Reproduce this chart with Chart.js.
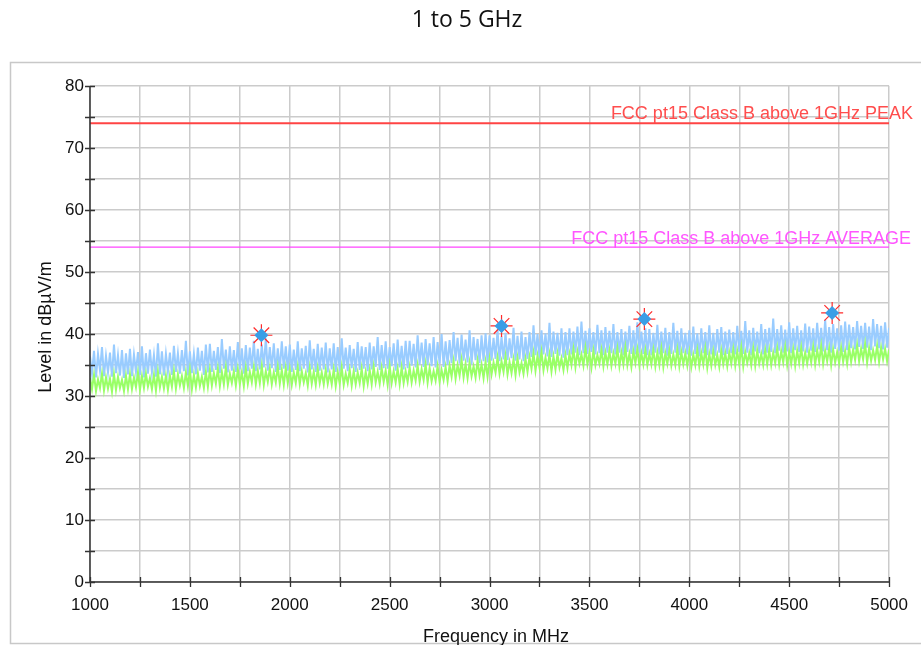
<!DOCTYPE html>
<html>
<head>
<meta charset="utf-8">
<script src="https://cdn.jsdelivr.net/npm/chart.js@4"></script>
<style>
html,body{margin:0;padding:0;background:#fff;}
#wrap{position:relative;width:921px;height:645px;}
</style>
</head>
<body>
<div id="wrap"><canvas id="c" width="921" height="645"></canvas></div>
<script>
// Frequency grid of the traces (MHz)
const freqStart = 1000;
const freqStep = 10;

// Peak trace (light blue), dBµV/m, one value every 10 MHz from 1000 to 5000 MHz
const peakTrace = [
36.4,33.6,37.3,33.0,36.8,34.1,37.9,33.2,36.5,33.8,37.0,33.1,38.3,33.7,36.6,33.3,37.4,32.9,36.9,33.5,
37.6,33.2,36.7,33.9,37.1,33.4,38.0,33.0,36.9,33.6,37.5,33.8,36.6,33.1,38.5,33.5,37.2,33.3,36.8,33.9,
37.0,33.4,38.1,33.9,36.9,33.6,37.4,34.0,38.9,33.3,37.2,33.7,36.8,33.5,37.8,34.1,37.3,33.4,38.3,33.8,
38.4,33.9,37.3,34.2,37.9,33.7,39.2,34.4,37.5,33.8,38.0,34.1,37.4,33.9,38.7,34.3,37.7,33.6,38.2,34.0,
37.8,34.4,38.9,34.0,37.6,34.3,38.3,34.6,39.3,34.1,37.9,34.5,38.5,33.9,37.7,34.2,38.8,34.4,38.0,34.1,
38.3,33.9,37.5,34.2,38.8,34.0,37.7,34.4,38.1,33.8,39.0,34.3,37.6,33.9,38.4,34.1,37.8,34.3,38.6,33.8,
37.7,34.3,38.5,33.9,37.9,34.1,39.3,34.4,37.8,34.0,38.2,34.5,37.6,33.9,38.7,34.2,38.0,34.4,37.9,34.0,
38.6,34.3,38.0,34.7,39.5,34.2,38.2,34.5,38.8,34.4,37.9,34.8,38.5,34.1,39.1,34.6,38.1,34.3,38.9,34.5,
38.9,34.9,38.4,34.6,39.8,35.1,38.6,34.7,39.2,35.0,38.5,34.8,39.5,34.6,38.7,35.2,40.0,34.7,38.8,35.0,
39.0,35.3,40.3,35.6,39.4,35.2,39.9,35.7,39.1,35.4,40.6,35.1,39.5,35.8,39.2,35.3,39.8,35.6,40.1,35.4,
39.8,35.7,39.4,36.0,40.7,35.6,39.6,35.9,40.2,35.8,39.3,36.1,41.0,35.7,39.7,35.9,40.4,35.6,39.5,36.0,
40.3,36.3,41.4,36.6,40.0,36.2,40.6,36.7,40.1,36.4,41.8,36.3,40.4,36.8,40.2,36.5,40.9,36.2,40.3,36.6,
40.9,36.7,40.4,37.0,41.2,36.6,42.0,36.9,40.5,36.8,40.9,37.1,40.3,36.7,41.5,36.9,40.6,36.6,41.1,37.0,
40.5,36.9,41.6,36.7,40.3,37.0,40.8,36.6,40.4,37.1,41.3,36.8,40.6,36.7,41.9,37.0,40.4,36.8,40.9,36.6,
40.8,36.6,40.2,37.0,41.5,36.7,40.4,36.9,41.0,36.5,40.3,36.8,41.8,37.0,40.5,36.6,40.9,36.9,40.2,36.7,
40.6,36.5,41.2,36.8,40.1,36.4,40.9,36.9,40.3,36.6,41.4,36.7,40.2,36.5,40.8,37.0,41.1,36.6,40.4,36.8,
40.7,36.9,40.3,36.7,41.3,37.1,40.5,36.8,42.1,37.0,40.6,36.6,41.0,37.2,40.4,36.9,41.6,36.7,40.8,37.0,
41.0,37.1,42.5,36.9,40.8,37.3,41.4,37.0,40.7,37.2,41.9,36.9,40.9,37.4,41.3,37.1,40.6,37.2,41.7,37.0,
41.2,37.3,40.9,37.1,41.8,37.5,41.0,37.2,42.3,37.4,41.1,37.0,41.6,37.6,40.9,37.3,41.4,37.1,42.0,37.4,
41.5,37.7,41.1,37.5,42.1,37.9,41.3,37.6,41.8,37.8,41.2,37.4,42.4,38.0,41.6,37.7,41.3,37.5,41.9,37.8,
41.0
];

// Average trace (light green), dBµV/m, one value every 10 MHz from 1000 to 5000 MHz
const avgTrace = [
32.9,31.1,33.4,30.8,32.7,31.3,33.6,30.9,33.0,31.2,32.8,30.7,33.5,31.0,33.1,31.3,32.6,30.8,33.3,31.1,
33.5,31.1,33.0,31.4,33.8,31.0,33.2,31.3,33.6,31.5,32.9,31.1,33.4,30.9,33.9,31.4,33.1,31.2,33.3,31.0,
33.3,31.5,34.0,31.2,33.5,31.7,33.2,31.3,33.8,31.6,34.2,31.1,33.4,31.4,33.7,31.6,33.1,31.3,33.9,31.5,
34.2,31.7,33.7,32.0,34.4,31.6,33.9,31.9,34.6,31.8,33.6,32.1,34.0,31.7,34.3,31.9,33.8,31.6,34.5,32.0,
33.9,32.2,34.6,31.9,34.1,32.1,34.8,31.8,34.0,32.3,34.4,31.9,33.8,32.2,34.7,32.0,34.2,31.8,34.5,32.1,
34.3,31.8,33.8,32.1,34.6,31.9,34.0,32.2,33.7,31.7,34.5,32.0,33.9,31.8,34.4,32.1,33.8,31.9,34.2,32.0,
33.7,31.9,34.3,31.6,33.9,32.0,34.6,31.8,33.6,32.1,34.2,31.7,34.0,31.9,33.8,32.1,34.4,31.6,33.9,32.0,
34.2,31.9,34.7,32.2,33.9,32.0,34.5,32.3,34.1,31.8,34.8,32.1,34.0,32.2,34.4,31.9,34.6,32.1,34.0,32.3,
34.6,32.2,34.1,32.5,34.9,32.3,34.3,32.6,35.1,32.2,34.5,32.4,34.0,32.5,34.8,32.3,34.2,32.6,34.7,32.4,
34.9,33.1,35.6,32.8,35.0,33.3,35.8,33.0,35.2,32.9,35.4,33.2,34.8,33.0,35.7,33.3,35.1,32.9,35.5,33.1,
35.9,33.5,35.4,33.8,36.2,33.6,35.6,33.9,36.4,33.5,35.5,33.7,35.9,33.4,36.1,33.8,35.3,33.6,36.0,33.9,
36.3,34.4,36.9,34.1,36.5,34.6,37.1,34.2,36.2,34.5,36.7,34.0,36.4,34.3,36.8,34.6,36.1,34.2,36.6,34.5,
36.8,35.0,37.5,34.7,37.1,35.2,36.7,34.9,37.7,35.1,36.9,34.6,37.3,35.0,36.6,35.2,37.4,34.8,37.0,35.1,
37.3,34.9,36.9,35.2,37.6,34.8,37.0,35.1,37.8,35.0,36.8,34.7,37.2,35.3,37.5,34.9,36.9,35.1,37.4,35.0,
36.8,35.1,37.4,34.8,37.0,35.0,37.6,34.7,36.9,35.2,37.3,34.9,36.7,35.0,37.5,34.8,37.1,35.1,36.9,34.9,
37.1,34.7,36.7,35.0,37.4,34.8,36.9,35.1,37.6,34.6,36.8,34.9,37.2,35.0,36.6,34.7,37.3,35.1,36.9,34.8,
37.0,35.2,37.5,34.9,37.2,35.1,37.8,34.8,37.1,35.3,36.9,35.0,37.6,34.9,37.3,35.2,36.8,35.0,37.4,35.1,
37.4,35.0,37.0,35.3,37.7,35.1,37.2,35.4,37.9,35.0,37.1,35.2,37.5,34.9,37.3,35.3,37.8,35.1,37.0,35.2,
37.2,35.4,37.9,35.1,37.4,35.5,38.1,35.2,37.3,35.6,37.7,35.0,37.5,35.4,37.1,35.3,37.8,35.5,37.3,35.2,
37.9,35.5,37.5,35.8,38.2,35.6,37.6,35.9,38.4,35.4,37.7,35.7,37.4,35.8,38.1,35.5,37.8,35.9,37.6,35.6,
37.5
];

// Limit lines (dBµV/m)
const limitFreqs = [1000, 5000];
const peakLimit = [74, 74];
const avgLimit = [54, 54];
const peakLimitLabel = "FCC pt15 Class B above 1GHz PEAK";
const avgLimitLabel = "FCC pt15 Class B above 1GHz AVERAGE";

// Final measurement markers
const markerFreqs = [1858, 3060, 3775, 4715];
const markerLevels = [39.8, 41.3, 42.4, 43.4];

// Axis ticks
const xTickLabels = [1000, 1500, 2000, 2500, 3000, 3500, 4000, 4500, 5000];
const yTickLabels = [0, 10, 20, 30, 40, 50, 60, 70, 80];

const titleText = "1 to 5 GHz";
const xTitle = "Frequency in MHz";
const yTitle = "Level in dBµV/m";

function toPts(xs, ys){ return ys.map((y,i)=>({x:xs[i], y:y})); }
const traceFreqs = peakTrace.map((_,i)=>freqStart + i*freqStep);

const PLOT = {left:90, right:890, top:86, bottom:582};
const FONT = '"Liberation Sans", Arial, sans-serif';

const decor = {
  id:'decor',
  beforeDraw(chart){
    const ctx = chart.ctx;
    ctx.save();
    ctx.fillStyle = '#fff';
    ctx.fillRect(0,0,chart.width,chart.height);
    ctx.strokeStyle = '#c8c8c8';
    ctx.lineWidth = 1.5;
    ctx.strokeRect(10.5, 62.5, 920, 581);
    ctx.fillStyle = '#111';
    ctx.font = '23px "Open Sans", Lato, sans-serif';
    ctx.textAlign = 'center';
    ctx.textBaseline = 'alphabetic';
    ctx.fillText(titleText, 467, 27);
    ctx.restore();
  },
  afterDraw(chart){
    const ctx = chart.ctx;
    const xs = chart.scales.x, ys = chart.scales.y;
    ctx.save();
    ctx.strokeStyle = '#333';
    ctx.lineWidth = 1.5;
    ctx.beginPath();
    ctx.moveTo(xs.left, ys.top); ctx.lineTo(xs.left, ys.bottom);
    ctx.moveTo(xs.left, ys.bottom); ctx.lineTo(xs.right, ys.bottom);
    ctx.stroke();
    ctx.lineWidth = 1.3;
    ctx.beginPath();
    for (let v = 1000; v <= 5000; v += 250) {
      const px = Math.round(xs.getPixelForValue(v)) + 0.5;
      ctx.moveTo(px, ys.bottom - 5); ctx.lineTo(px, ys.bottom + 5);
    }
    for (let v = 0; v <= 80; v += 5) {
      const py = Math.round(ys.getPixelForValue(v)) + 0.5;
      ctx.moveTo(xs.left - 5, py); ctx.lineTo(xs.left + 5, py);
    }
    ctx.stroke();
    ctx.font = '18px ' + FONT;
    ctx.textAlign = 'right';
    ctx.textBaseline = 'alphabetic';
    ctx.fillStyle = '#ff4d4d';
    ctx.fillText(peakLimitLabel, 913, ys.getPixelForValue(peakLimit[1]) - 4);
    ctx.fillStyle = '#ff55ff';
    ctx.fillText(avgLimitLabel, 911, ys.getPixelForValue(avgLimit[1]) - 3);
    ctx.fillStyle = '#111';
    ctx.font = '18px ' + FONT;
    ctx.textAlign = 'center';
    ctx.textBaseline = 'alphabetic';
    ctx.fillText(xTitle, 496, 642);
    ctx.translate(51, 327);
    ctx.rotate(-Math.PI/2);
    ctx.fillText(yTitle, 0, 0);
    ctx.restore();
  }
};

new Chart(document.getElementById('c'), {
  type: 'scatter',
  data: {
    datasets: [
      { label:'peak', data: toPts(traceFreqs, peakTrace), showLine:true, borderColor:'#99ccff', borderWidth:2, pointRadius:0, order:5 },
      { label:'avg', data: toPts(traceFreqs, avgTrace), showLine:true, borderColor:'#99ff66', borderWidth:2, pointRadius:0, order:4 },
      { label:'peakLimit', data: toPts(limitFreqs, peakLimit), showLine:true, borderColor:'#ff4444', borderWidth:2, pointRadius:0, order:3 },
      { label:'avgLimit', data: toPts(limitFreqs, avgLimit), showLine:true, borderColor:'#ff44ff', borderWidth:1.2, pointRadius:0, order:3 },
      { label:'markStar', data: toPts(markerFreqs, markerLevels), showLine:false, pointStyle:'star', pointRadius:11, borderColor:'#ff2a2a', borderWidth:1.2, backgroundColor:'#ff2a2a', order:2 },
      { label:'markDiamond', data: toPts(markerFreqs, markerLevels), showLine:false, pointStyle:'rectRot', pointRadius:7, borderColor:'#3a9ee6', borderWidth:0, backgroundColor:'#3a9ee6', order:1 }
    ]
  },
  options: {
    responsive:false,
    animation:false,
    devicePixelRatio:1,
    layout:{ padding:{ left:0, right:921-PLOT.right, top:PLOT.top, bottom:0 } },
    plugins:{ legend:{display:false}, tooltip:{enabled:false}, title:{display:false} },
    scales:{
      x:{
        type:'linear', min:1000, max:5000,
        afterBuildTicks(s){ s.ticks = []; for(let v=1000; v<=5000; v+=250) s.ticks.push({value:v}); },
        afterFit(s){ s.height = 645 - PLOT.bottom; },
        grid:{ color:'#cbcbcb', lineWidth:1.5, drawTicks:false },
        border:{ display:false },
        ticks:{
          padding:13,
          color:'#111',
          font:{ family:FONT, size:17 },
          maxRotation:0, autoSkip:false,
          callback:(v)=> xTickLabels.includes(v) ? String(v) : ''
        }
      },
      y:{
        type:'linear', min:0, max:80,
        afterBuildTicks(s){ s.ticks = []; for(let v=0; v<=80; v+=5) s.ticks.push({value:v}); },
        afterFit(s){ s.width = PLOT.left; },
        grid:{ color:'#cbcbcb', lineWidth:1.5, drawTicks:false },
        border:{ display:false },
        ticks:{
          padding:6,
          color:'#111',
          font:{ family:FONT, size:17 },
          autoSkip:false,
          callback:(v)=> yTickLabels.includes(v) ? String(v) : ''
        }
      }
    }
  },
  plugins:[decor]
});
</script>
</body>
</html>
